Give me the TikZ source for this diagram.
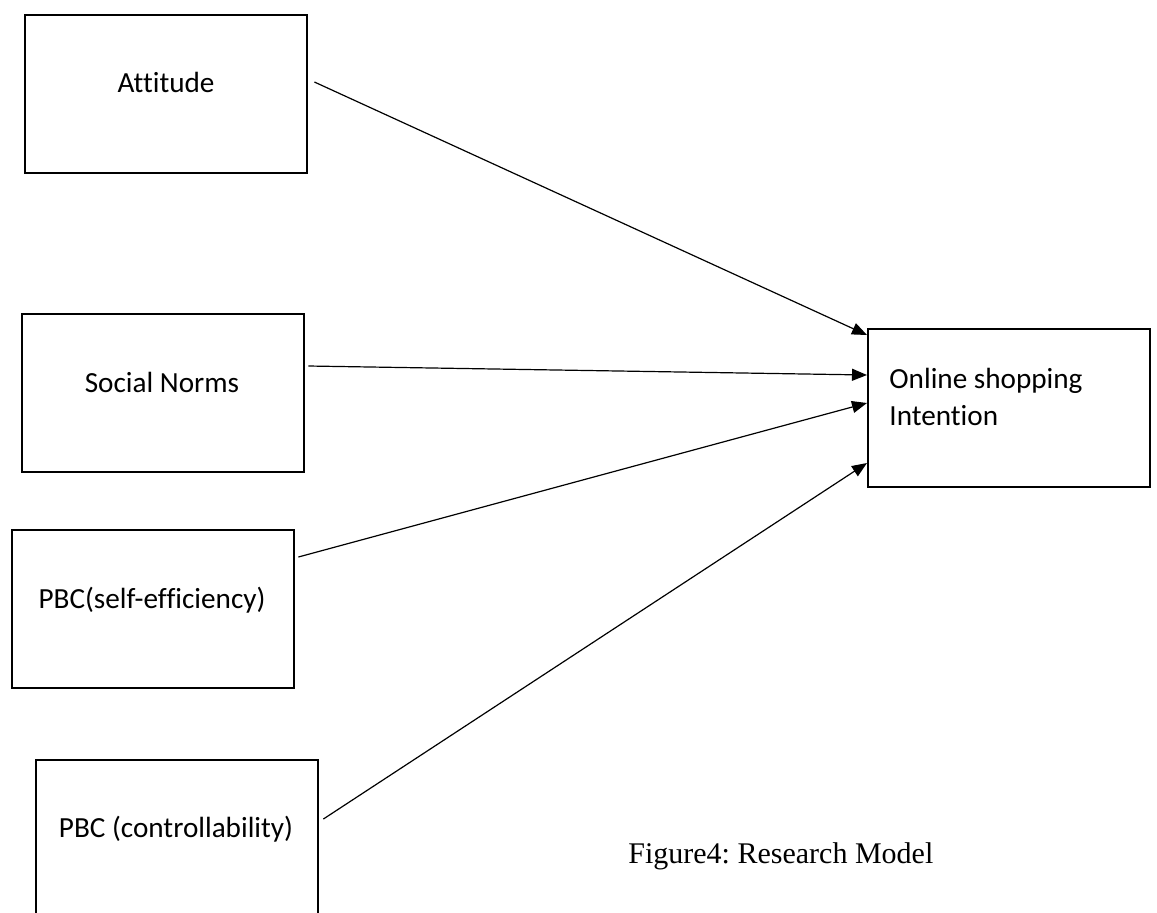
\documentclass[tikz,border=0pt]{standalone}
\usepackage{fontspec}
\setmainfont{Carlito}[Ligatures=NoCommon]
\newfontfamily\capfont{Liberation Serif}
\usetikzlibrary{arrows.meta}
\usetikzlibrary{calc}
\frenchspacing

\tikzset{
  box/.style={draw, black, line width=1.2pt, minimum width=141pt, minimum height=79pt, inner sep=0pt, anchor=north west},
  boxtext/.style={font=\fontsize{14.6}{18.5}\selectfont, inner sep=0pt},
  link/.style={-{Triangle[length=7.5pt,width=6pt]}, line width=0.6pt}
}

\begin{document}
\begin{tikzpicture}[x=0.5pt,y=-0.5pt]
            \useasboundingbox (0,0) rectangle (1157,912);
            \clip (0,0) rectangle (1157,912);

            \node[box] (att) at (24,14) {};
            \node[box] (sn) at (21,313) {};
            \node[box] (pse) at (11,529) {};
            \node[box] (pc) at (35,759) {};
            \node[box] (oi) at (867,328) {};

            \node[boxtext] (att-t) at (166,82) {Attitude};
            \node[boxtext] (sn-t) at (162,382) {Social Norms};
            \node[boxtext] (pse-t) at (152,600) {PBC(self-efficiency)};
            \node[boxtext] (pc-t) at (176,829) {PBC (controllability)};
            \node[boxtext, align=left, anchor=north west] (oi-t) at (889,368) {Online shopping\\Intention};

            \draw[link] ($(att.north east)+(6,68)$) -- ($(oi.north west)+(0,7)$);
            \draw[link] ($(sn.north east)+(3,53)$) -- ($(oi.north west)+(0,47)$);
            \draw[link] ($(pse.north east)+(3,28)$) -- ($(oi.north west)+(0,75)$);
            \draw[link] ($(pc.north east)+(4,60)$) -- ($(oi.north west)+(0,135)$);

            \node[font=\capfont\fontsize{15}{18}\selectfont, inner sep=0pt, anchor=base west] (cap) at (628,863) {Figure4: Research Model};
        \end{tikzpicture}
\end{document}
